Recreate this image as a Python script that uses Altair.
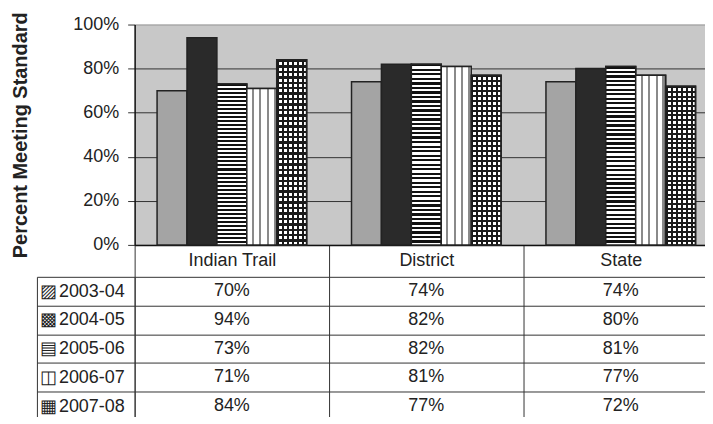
import altair as alt
import pandas as pd

schools = ["Indian Trail", "District", "State"]
years = ["2003-04", "2004-05", "2005-06", "2006-07", "2007-08"]
indian_trail = [70, 94, 73, 71, 84]
district = [74, 82, 82, 81, 77]
state = [74, 80, 81, 77, 72]
swatch_glyphs = ["▨", "▩", "▤", "◫", "▦"]

series = {"Indian Trail": indian_trail, "District": district, "State": state}
rows = []
for school in schools:
    for yr, g, v in zip(years, swatch_glyphs, series[school]):
        rows.append({"school": school, "year": yr, "value": v,
                     "row": g + "\u200a" + yr, "label": f"{v}%"})
df = pd.DataFrame(rows)
row_labels = [g + "\u200a" + yr for g, yr in zip(swatch_glyphs, years)]

FONT = "Liberation Sans"
bar_fills = ["#a4a4a4", "#2a2a2a", "#ffffff", "#fafafa", "#ffffff"]


def stripes(n, frac, dark, light, horizontal):
    stops = []
    for i in range(n):
        a, b = i / n, (i + frac) / n
        stops += [alt.GradientStop(offset=a, color=dark),
                  alt.GradientStop(offset=b, color=dark),
                  alt.GradientStop(offset=b, color=light),
                  alt.GradientStop(offset=(i + 1) / n, color=light)]
    if horizontal:
        return alt.LinearGradient(gradient="linear", stops=stops, x1=0, x2=0, y1=0, y2=1)
    return alt.LinearGradient(gradient="linear", stops=stops, x1=0, x2=1, y1=0, y2=0)


hstripe = stripes(40, 0.5, "#111111", "#ffffff", True)

v_stops = [alt.GradientStop(offset=0, color="#ffffff")]
for c in [0.2, 0.45, 0.7, 0.93]:
    v_stops += [alt.GradientStop(offset=c - 0.035, color="#ffffff"),
                alt.GradientStop(offset=c - 0.035, color="#8a8a8a"),
                alt.GradientStop(offset=c + 0.035, color="#8a8a8a"),
                alt.GradientStop(offset=c + 0.035, color="#ffffff")]
v_stops.append(alt.GradientStop(offset=1, color="#ffffff"))
vstripe = alt.LinearGradient(gradient="linear", stops=v_stops, x1=0, x2=1, y1=0, y2=0)

grid_h = stripes(34, 0.45, "#1a1a1a", "rgba(255,255,255,0)", True)
grid_v = stripes(6, 0.45, "#1a1a1a", "rgba(255,255,255,0)", False)

W = 585

x_top = alt.X("school:N", sort=schools,
              scale=alt.Scale(paddingInner=0, paddingOuter=0),
              axis=alt.Axis(title=None, orient="bottom", tickBand="extent",
                            tickSize=32, tickColor="#333333", labelPadding=-25,
                            labelFontSize=18, labelColor="#222222", labelAngle=0,
                            domainColor="#111111", domainWidth=1.5, grid=False))
xoff = alt.XOffset("year:N", sort=years,
                   scale=alt.Scale(paddingInner=0, paddingOuter=0.75))
y_top = alt.Y("value:Q", scale=alt.Scale(domain=[0, 100]),
              axis=alt.Axis(values=[0, 20, 40, 60, 80, 100],
                            labelExpr="datum.value + '%'",
                            title="Percent Meeting Standard", titleFontSize=20,
                            titleFontWeight="bold", titleColor="#222222",
                            titlePadding=42, labelFontSize=18, labelColor="#222222",
                            labelPadding=9, tickSize=7, tickColor="#333333",
                            domainColor="#111111", domainWidth=1.5, grid=True,
                            gridColor=alt.condition("datum.value == 100",
                                                    alt.value("#999999"),
                                                    alt.value("#333333")),
                            gridWidth=1))

base = alt.Chart(df).encode(x=x_top, xOffset=xoff, y=y_top)
bars = base.mark_bar(stroke="#222222", strokeWidth=1.5).encode(
    color=alt.Color("year:N", sort=years,
                    scale=alt.Scale(domain=years, range=bar_fills), legend=None))
l_stripes = base.transform_filter(alt.datum.year == "2005-06").mark_bar(
    stroke="#222222", strokeWidth=1.5, fill=hstripe)
l_dashes = base.transform_filter(alt.datum.year == "2006-07").mark_bar(
    stroke="#222222", strokeWidth=1.5, fill=vstripe)
l_grid_h = base.transform_filter(alt.datum.year == "2007-08").mark_bar(
    strokeWidth=0, fill=grid_h)
l_grid_v = base.transform_filter(alt.datum.year == "2007-08").mark_bar(
    stroke="#222222", strokeWidth=1.5, fill=grid_v)

top = alt.layer(bars, l_stripes, l_dashes, l_grid_h, l_grid_v).properties(
    width=W, height=221, view=alt.ViewBackground(fill="#c8c8c8", strokeWidth=0))

tbl = alt.Chart(df)
cells = tbl.mark_text(fontSize=18, color="#222222", font=FONT).encode(
    x=alt.X("school:N", sort=schools,
            scale=alt.Scale(paddingInner=0, paddingOuter=0),
            axis=alt.Axis(orient="top", title=None, labels=False, ticks=False,
                          domain=False, grid=True, tickBand="extent",
                          gridColor="#333333", gridWidth=1)),
    y=alt.Y("row:N", sort=row_labels,
            scale=alt.Scale(paddingInner=0, paddingOuter=0),
            axis=alt.Axis(title=None, orient="left", tickBand="extent", grid=True,
                          gridColor="#333333", tickSize=98, tickColor="#333333",
                          domainColor="#333333", labelAlign="left", labelPadding=-3,
                          labelFontSize=18, labelColor="#222222",
                          labelBaseline="middle")),
    text="label:N")
border = tbl.mark_text(text="").encode(
    y=alt.Y("row:N", sort=row_labels,
            scale=alt.Scale(paddingInner=0, paddingOuter=0),
            axis=alt.Axis(title=None, orient="left", offset=98, labels=False,
                          ticks=False, grid=False, domain=True,
                          domainColor="#333333")))
table = alt.layer(cells, border).resolve_axis(y="independent").properties(
    width=W, height=144)

chart = alt.vconcat(top, table, spacing=32, bounds="flush").properties(
    padding={"left": 2, "right": -14, "top": 3, "bottom": -5}
).configure(font=FONT).configure_view(strokeWidth=0)

chart.save("out.html", embed_options={"renderer": "svg", "actions": False})
